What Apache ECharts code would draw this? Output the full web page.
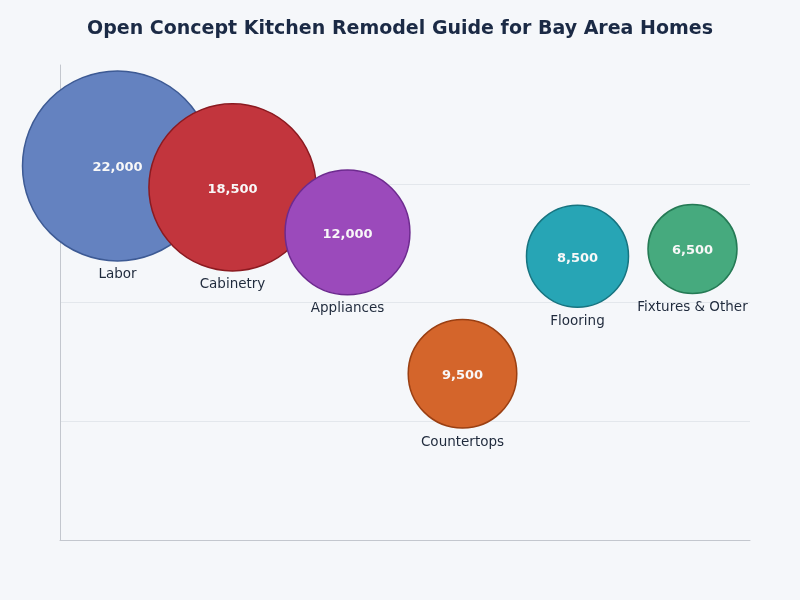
<!DOCTYPE html>
<html lang="en">
<head>
    <meta charset="UTF-8">
    <title>Open Concept Kitchen Remodel Guide</title>
    <script src="https://cdn.jsdelivr.net/npm/echarts@6.0.0/dist/echarts.min.js"></script>
    <style>
        body { margin: 0; background: #f5f7fa; }
    </style>
</head>
<body>
    <div id="chart" style="width: 800px; height: 600px;"></div>

    <script>
        // data
        const categories = ['Labor', 'Cabinetry', 'Appliances', 'Countertops', 'Flooring', 'Fixtures & Other'];
        const costs = [22000, 18500, 12000, 9500, 8500, 6500];
        const yPos = [3.15, 2.97, 2.59, 1.40, 2.39, 2.45];
        const fills = ['#6482c0', '#c2353d', '#9b4abb', '#d4652b', '#27a5b5', '#46aa7e'];
        const borders = ['#3d5a94', '#8b1a20', '#6d2a8f', '#9a3f12', '#177480', '#257a55'];

        const minCost = Math.min(...costs);
        const maxCost = Math.max(...costs);
        // bubble diameter scaled linearly between smallest and largest cost
        function bubbleSize(v) {
            return 89 + (v - minCost) / (maxCost - minCost) * 101;
        }

        const points = categories.map((c, i) => ({
            value: [c, yPos[i], costs[i]],
            itemStyle: { color: fills[i], borderColor: borders[i], borderWidth: 1.5, opacity: 1 }
        }));

        const chart = echarts.init(document.getElementById('chart'));
        chart.setOption({
            backgroundColor: '#f5f7fa',
            textStyle: { fontFamily: 'DejaVu Sans' },
            title: {
                text: 'Open Concept Kitchen Remodel Guide for Bay Area Homes',
                left: 'center',
                top: 15,
                textStyle: { fontSize: 19, fontWeight: 'bold', color: '#1b2a45', fontFamily: 'DejaVu Sans' }
            },
            grid: { left: 60, right: 50, top: 65, bottom: 60 },
            xAxis: {
                type: 'category',
                data: categories,
                axisLine: { lineStyle: { color: '#c3c7ce' } },
                axisTick: { show: false },
                axisLabel: { show: false },
                splitLine: { show: false }
            },
            yAxis: {
                type: 'value',
                min: 0,
                max: 4,
                interval: 1,
                axisLine: { show: true, lineStyle: { color: '#c3c7ce' } },
                axisTick: { show: false },
                axisLabel: { show: false },
                splitLine: { show: true, showMaxLine: false, lineStyle: { color: '#e3e7ec' } }
            },
            series: [
                {
                    type: 'scatter',
                    data: points,
                    symbolSize: d => bubbleSize(d[2]),
                    label: {
                        show: true,
                        position: 'inside',
                        color: '#f8f8f8',
                        fontWeight: 'bold',
                        fontSize: 13,
                        offset: [0, 2],
                        formatter: p => p.value[2].toLocaleString('en-US')
                    },
                    z: 2
                },
                {
                    // transparent copy, only to put the names under the bubbles
                    type: 'scatter',
                    silent: true,
                    data: points.map(p => ({ value: p.value })),
                    symbolSize: d => bubbleSize(d[2]),
                    itemStyle: { color: 'rgba(0,0,0,0)', borderWidth: 0 },
                    label: {
                        show: true,
                        position: 'bottom',
                        distance: 6,
                        color: '#1f2a3c',
                        opacity: 1,
                        fontSize: 13.5,
                        offset: [0, 1],
                        formatter: p => p.value[0]
                    },
                    z: 3
                }
            ]
        });
    </script>
</body>
</html>
